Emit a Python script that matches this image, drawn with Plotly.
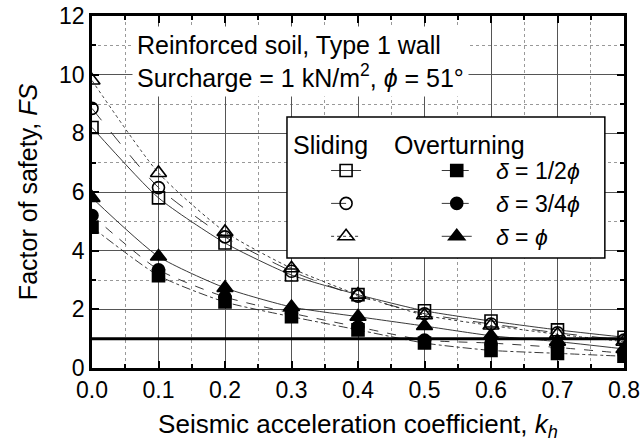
import plotly.graph_objects as go

kh = [0.0, 0.1, 0.2, 0.3, 0.4, 0.5, 0.6, 0.7, 0.8]

slide_half = [8.2, 5.8, 4.26, 3.17, 2.5, 1.95, 1.6, 1.3, 1.05]
slide_3q = [8.85, 6.15, 4.47, 3.3, 2.45, 1.85, 1.5, 1.2, 0.95]
slide_full = [9.8, 6.65, 4.64, 3.4, 2.5, 1.8, 1.45, 1.15, 0.9]

over_half = [4.8, 3.15, 2.25, 1.75, 1.3, 0.85, 0.6, 0.5, 0.4]
over_3q = [5.2, 3.35, 2.42, 1.87, 1.4, 0.95, 0.85, 0.7, 0.5]
over_full = [5.8, 3.8, 2.73, 2.08, 1.75, 1.43, 1.1, 0.9, 0.65]

fs_limit = 1.0

FONT = "Liberation Sans, Arial, sans-serif"
NB = "\u00a0"

fig = go.Figure()

series = [
    (slide_half, "square-open", "solid", NB, "legend"),
    (slide_3q, "circle-open", "longdash", NB, "legend"),
    (slide_full, "triangle-up-open", "dot", NB, "legend"),
    (over_half, "square", "dashdot", NB * 3 + "<i>δ</i>" + NB + "=" + NB + "1/2<i>ϕ</i>", "legend2"),
    (over_3q, "circle", "dash", NB * 3 + "<i>δ</i>" + NB + "=" + NB + "3/4<i>ϕ</i>", "legend2"),
    (over_full, "triangle-up", "solid", NB * 3 + "<i>δ</i>" + NB + "=" + NB + "<i>ϕ</i>", "legend2"),
]

for vals, sym, dash, name, leg in series:
    fig.add_trace(go.Scatter(
        x=kh, y=vals, mode="lines+markers", name=name, legend=leg,
        line=dict(color="#222", width=0.9, dash=dash, shape="spline", smoothing=0.6),
        marker=dict(symbol=sym, size=12 if "triangle" not in sym else 14,
                    color="black", line=dict(color="black", width=1.6)),
        cliponaxis=True,
    ))

# FS = 1 reference line
fig.add_hline(y=fs_limit, line=dict(color="black", width=3))

# legend box
fig.add_shape(type="rect", xref="paper", yref="paper",
              x0=0.3665, x1=0.964, y0=0.3125, y1=0.713,
              fillcolor="white", line=dict(color="black", width=1.5), layer="above")

fig.add_annotation(xref="paper", yref="paper", x=0.374, y=0.633, xanchor="left",
                   yanchor="middle", text="Sliding", showarrow=False,
                   font=dict(family=FONT, size=25, color="black"))
fig.add_annotation(xref="paper", yref="paper", x=0.563, y=0.633, xanchor="left",
                   yanchor="middle", text="Overturning", showarrow=False,
                   font=dict(family=FONT, size=25, color="black"))

fig.add_annotation(xref="paper", yref="paper", x=0.075, y=0.872, xanchor="left",
                   yanchor="middle", align="left", showarrow=False,
                   text="Reinforced soil, Type 1 wall<br>Surcharge = 1 kN/m<sup>2</sup>, <i>ϕ</i> = 51°",
                   bgcolor="white", borderpad=4,
                   font=dict(family=FONT, size=25, color="black"))

fig.update_layout(
    width=640, height=442,
    margin=dict(l=92, r=16, t=16, b=74),
    paper_bgcolor="white", plot_bgcolor="white",
    font=dict(family=FONT, size=23, color="black"),
    showlegend=True,
    legend=dict(x=0.44, y=0.622, xanchor="left", yanchor="top",
                bgcolor="rgba(0,0,0,0)", borderwidth=0,
                font=dict(family=FONT, size=23), tracegroupgap=0),
    legend2=dict(x=0.648, y=0.622, xanchor="left", yanchor="top",
                 bgcolor="rgba(0,0,0,0)", borderwidth=0,
                 font=dict(family=FONT, size=23), tracegroupgap=0),
)

fig.update_xaxes(
    range=[0, 0.8], dtick=0.1, tickformat=".1f", tick0=0, automargin=False,
    showline=True, linecolor="black", linewidth=2.5, mirror="ticks",
    ticks="inside", ticklen=7, tickwidth=2, tickcolor="black",
    showgrid=True, gridcolor="#555", gridwidth=0.8,
    minor=dict(dtick=0.05, ticks="inside", ticklen=4, tickwidth=1.5, tickcolor="black",
               showgrid=True, gridcolor="#999", griddash="dot", gridwidth=1),
    zeroline=False,
    title=dict(text="Seismic acceleration coefficient, <i>k<sub>h</sub></i>",
               font=dict(family=FONT, size=26), standoff=13),
    tickfont=dict(family=FONT, size=23),
)
fig.update_yaxes(
    range=[0, 12], dtick=2, tick0=0, automargin=False,
    showline=True, linecolor="black", linewidth=2.5, mirror="ticks",
    ticks="inside", ticklen=7, tickwidth=2, tickcolor="black",
    showgrid=True, gridcolor="#555", gridwidth=0.8,
    minor=dict(dtick=1, ticks="inside", ticklen=4, tickwidth=1.5, tickcolor="black",
               showgrid=True, gridcolor="#999", griddash="dot", gridwidth=1),
    zeroline=False,
    title=dict(text="Factor of safety, <i>FS</i>",
               font=dict(family=FONT, size=25), standoff=15),
    tickfont=dict(family=FONT, size=23),
)

fig.write_html("out.html")
